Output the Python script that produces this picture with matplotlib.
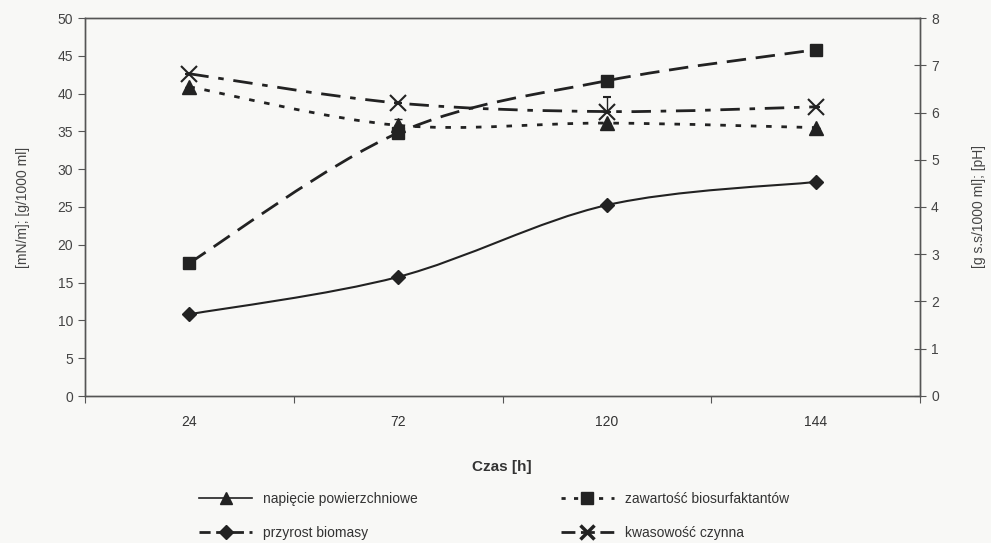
import matplotlib
matplotlib.use("Agg")
import matplotlib.pyplot as plt
from matplotlib.path import Path
from matplotlib.patches import PathPatch
from matplotlib.lines import Line2D

# Data
czas = ["24", "72", "120", "144"]
napiecie = [40.9, 35.8, 36.1, 35.5]          # mN/m, left axis
biosurfaktanty = [17.6, 34.8, 41.7, 45.8]    # g/1000 ml, left axis
biomasa = [1.73, 2.52, 4.04, 4.53]           # g s.s/1000 ml, right axis
ph = [6.82, 6.20, 6.02, 6.12]                # pH, right axis
napiecie_err = [0, 0.8, 0, 0]
ph_err = [0, 0, 0.3, 0]

plt.rcParams['font.family'] = ['Liberation Sans', 'DejaVu Sans']
narrow = ['Liberation Sans Narrow', 'Liberation Sans', 'DejaVu Sans']
axis_col = '#555555'
line_col = '#222222'


def smooth_line(ax, xs, ys, **kw):
    # Excel-like smoothed line: cubic Bezier through the data points
    n = len(xs)
    verts = [(xs[0], ys[0])]
    codes = [Path.MOVETO]
    for i in range(n - 1):
        x0, y0 = (xs[i - 1], ys[i - 1]) if i > 0 else (xs[i], ys[i])
        x3, y3 = (xs[i + 2], ys[i + 2]) if i + 2 < n else (xs[i + 1], ys[i + 1])
        c1 = (xs[i] + (xs[i + 1] - x0) / 6, ys[i] + (ys[i + 1] - y0) / 6)
        c2 = (xs[i + 1] - (x3 - xs[i]) / 6, ys[i + 1] - (y3 - ys[i]) / 6)
        verts += [c1, c2, (xs[i + 1], ys[i + 1])]
        codes += [Path.CURVE4] * 3
    patch = PathPatch(Path(verts, codes), fill=False, **kw)
    ax.add_patch(patch)


fig = plt.figure(figsize=(9.91, 5.43), dpi=100)
fig.patch.set_facecolor('#f8f8f6')
ax1 = fig.add_axes([85 / 991, 1 - 396 / 543, 835 / 991, 378 / 543])
ax1.set_facecolor('none')
ax2 = ax1.twinx()

x = list(range(len(czas)))

# left axis series
smooth_line(ax1, x, napiecie, edgecolor=line_col, lw=2.0, linestyle=(0, (2, 3.5)))
smooth_line(ax1, x, biosurfaktanty, edgecolor=line_col, lw=2.0, linestyle=(0, (7, 3.5)))
ax1.errorbar(x, napiecie, yerr=[[0] * 4, napiecie_err], fmt='^', color=line_col,
             ms=10, capsize=3, elinewidth=1, capthick=1)
ax1.plot(x, biosurfaktanty, 's', color=line_col, ms=9)

# right axis series
smooth_line(ax2, x, biomasa, edgecolor=line_col, lw=1.5, linestyle='-')
smooth_line(ax2, x, ph, edgecolor=line_col, lw=2.0, linestyle=(0, (7, 3.5, 2, 3.5)))
ax2.plot(x, biomasa, 'D', color=line_col, ms=7)
ax2.errorbar(x, ph, yerr=[[0] * 4, ph_err], fmt='x', color=line_col,
             ms=11, mew=1.5, capsize=3, elinewidth=1, capthick=1)

ax1.set_xlim(-0.5, len(czas) - 0.5)
ax1.set_ylim(0, 50)
ax1.set_yticks(range(0, 51, 5))
ax2.set_ylim(0, 8)
ax2.set_yticks(range(0, 9))

# category boundaries as tick marks, labels at category centers
ax1.set_xticks([i - 0.5 for i in range(len(czas) + 1)])
ax1.set_xticklabels([])
ax1.set_xticks(x, minor=True)
ax1.set_xticklabels(czas, minor=True, family=narrow, fontsize=10, color='#333333')
ax1.tick_params(axis='x', which='minor', length=0, pad=14)
ax1.tick_params(axis='x', which='major', direction='out', length=5, color=axis_col)
ax1.tick_params(axis='y', direction='out', length=5, color=axis_col,
                labelsize=10, labelcolor='#444444')
ax2.tick_params(axis='y', direction='inout', length=9, color=axis_col,
                labelsize=10, labelcolor='#444444')

for ax in (ax1, ax2):
    for sp in ax.spines.values():
        sp.set_color(axis_col)
        sp.set_linewidth(1.0)

ax1.set_ylabel('[mN/m]; [g/1000 ml]', fontsize=10, color='#444444', labelpad=20)
ax2.set_ylabel('[g s.s/1000 ml]; [pH]', fontsize=10, color='#444444', labelpad=24)
fig.text(502 / 991, 1 - 467 / 543, 'Czas [h]', ha='center', va='center',
         fontsize=11, fontweight='bold', family=narrow, color='#333333')

handles = [
    Line2D([], [], color=line_col, lw=1.2, marker='^', ms=9),
    Line2D([], [], color=line_col, lw=2.0, marker='D', ms=7, linestyle=(0, (4, 2))),
    Line2D([], [], color=line_col, lw=2.0, marker='s', ms=8, linestyle=(0, (1.5, 3))),
    Line2D([], [], color=line_col, lw=2.0, marker='x', ms=10, mew=2.5, linestyle=(0, (5, 2))),
]
labels = ['napięcie powierzchniowe', 'przyrost biomasy',
          'zawartość biosurfaktantów', 'kwasowość czynna']
fig.legend(handles, labels, ncol=2, frameon=False, loc='center',
           bbox_to_anchor=(494 / 991, 1 - 516 / 543), handlelength=3.8,
           columnspacing=10.3, labelspacing=1.45,
           prop={'family': narrow, 'size': 10}, labelcolor='#333333')

fig.savefig('out.png', dpi=100, facecolor=fig.get_facecolor())
